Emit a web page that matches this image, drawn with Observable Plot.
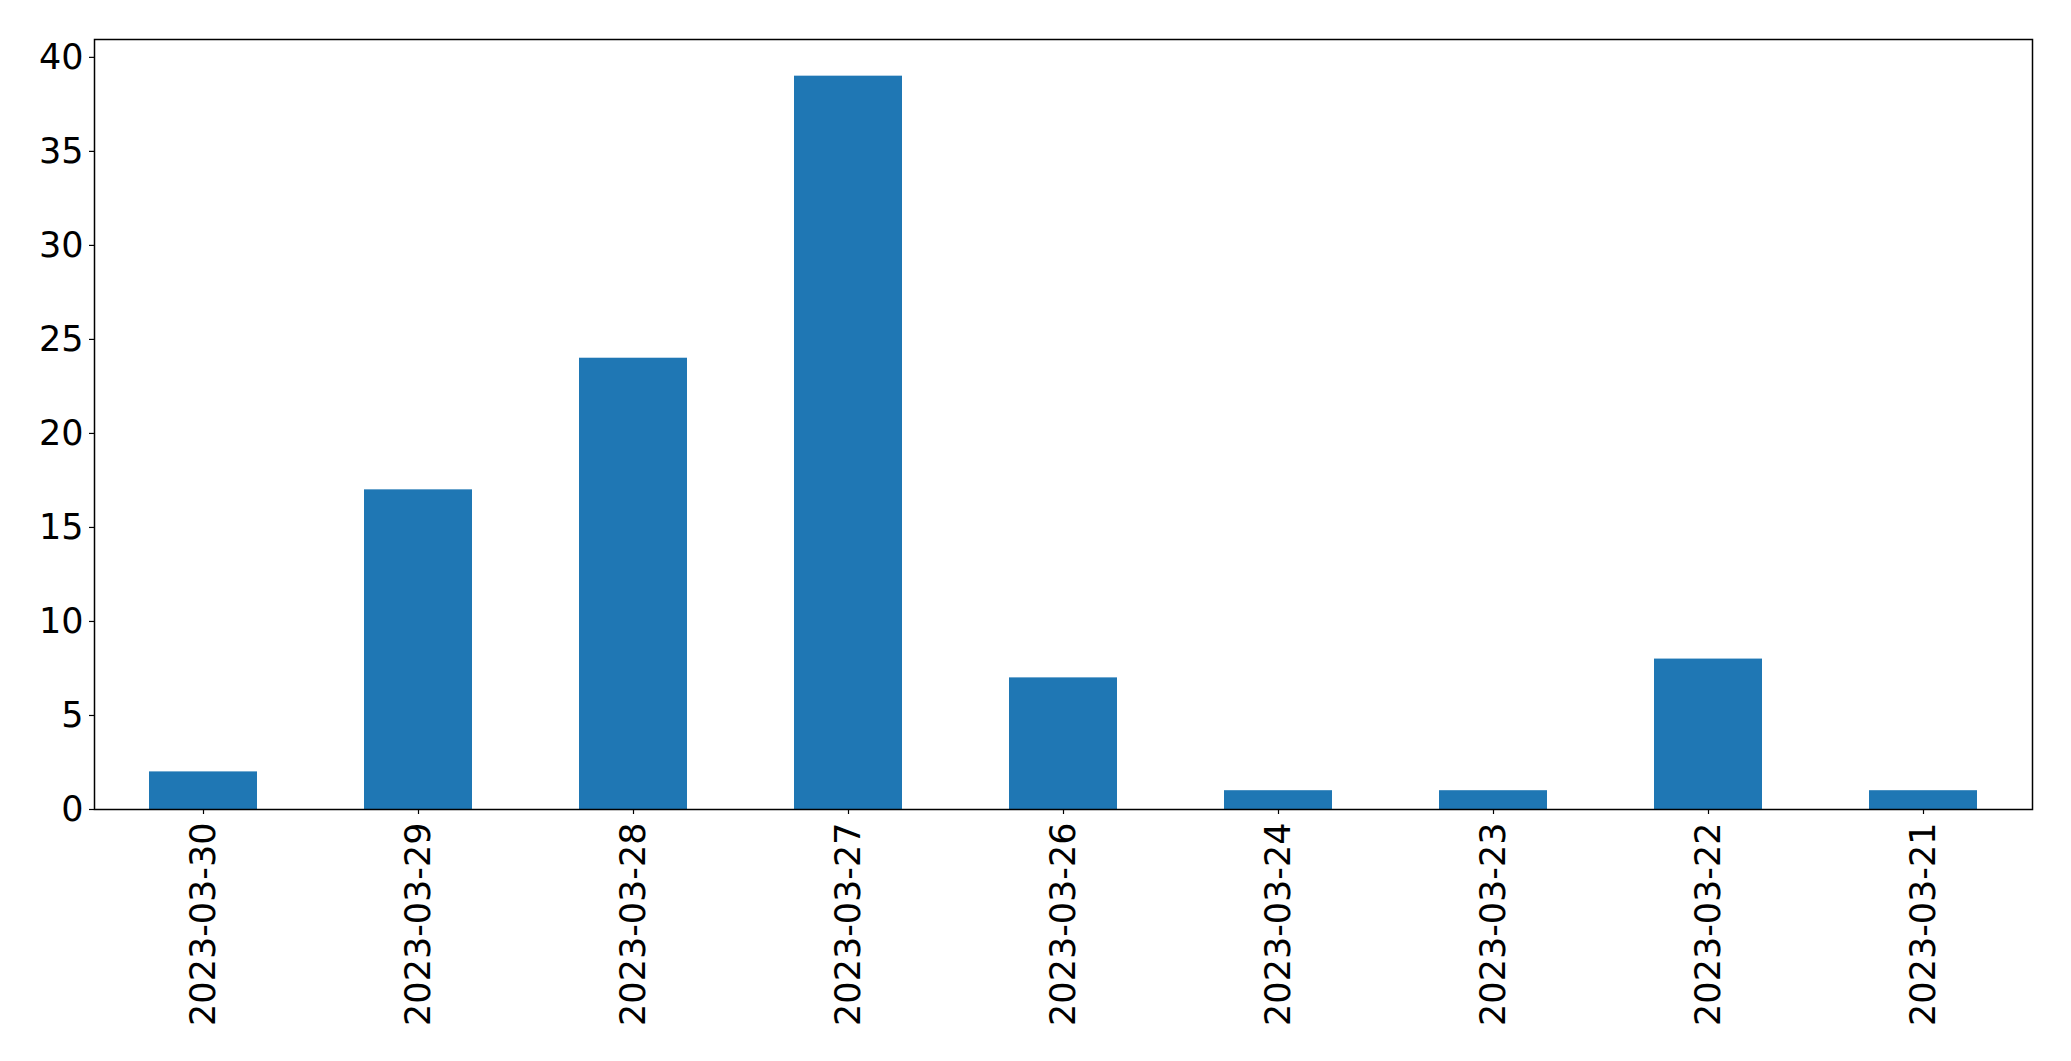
<!DOCTYPE html>
<html>
<head>
<meta charset="utf-8">
<script src="https://cdn.jsdelivr.net/npm/d3@7"></script>
<script src="https://cdn.jsdelivr.net/npm/@observablehq/plot@0.6"></script>
<style>
  html, body { margin: 0; padding: 0; background: #fff; }
  svg { display: block; }
</style>
</head>
<body>
<div id="chart"></div>
<script>
const dates = ["2023-03-30","2023-03-29","2023-03-28","2023-03-27","2023-03-26","2023-03-24","2023-03-23","2023-03-22","2023-03-21"];
const counts = [2, 17, 24, 39, 7, 1, 1, 8, 1];
const yTicks = [0, 5, 10, 15, 20, 25, 30, 35, 40];

const data = dates.map((d, i) => ({date: d, count: counts[i]}));

const chart = Plot.plot({
  width: 2071,
  height: 1061,
  marginLeft: 94,
  marginRight: 39,
  marginTop: 39,
  marginBottom: 252,
  style: {fontFamily: "DejaVu Sans", background: "white", color: "black"},
  x: {domain: dates, paddingInner: 0.5, paddingOuter: 0.25, label: null},
  y: {domain: [0, 40.95], label: null},
  marks: [
    Plot.barY(data, {x: "date", y: "count", fill: "#1f77b4"}),
    Plot.axisX({tickRotate: -90, fontSize: 35, tickSize: 5, tickPadding: 8, label: null, stroke: "black", strokeWidth: 1.2}),
    Plot.axisY({ticks: yTicks, fontSize: 35, tickSize: 5, tickPadding: 6, label: null, stroke: "black", strokeWidth: 1.2}),
    Plot.frame({stroke: "black", strokeWidth: 1.5})
  ]
});
document.getElementById("chart").appendChild(chart);
</script>
</body>
</html>
